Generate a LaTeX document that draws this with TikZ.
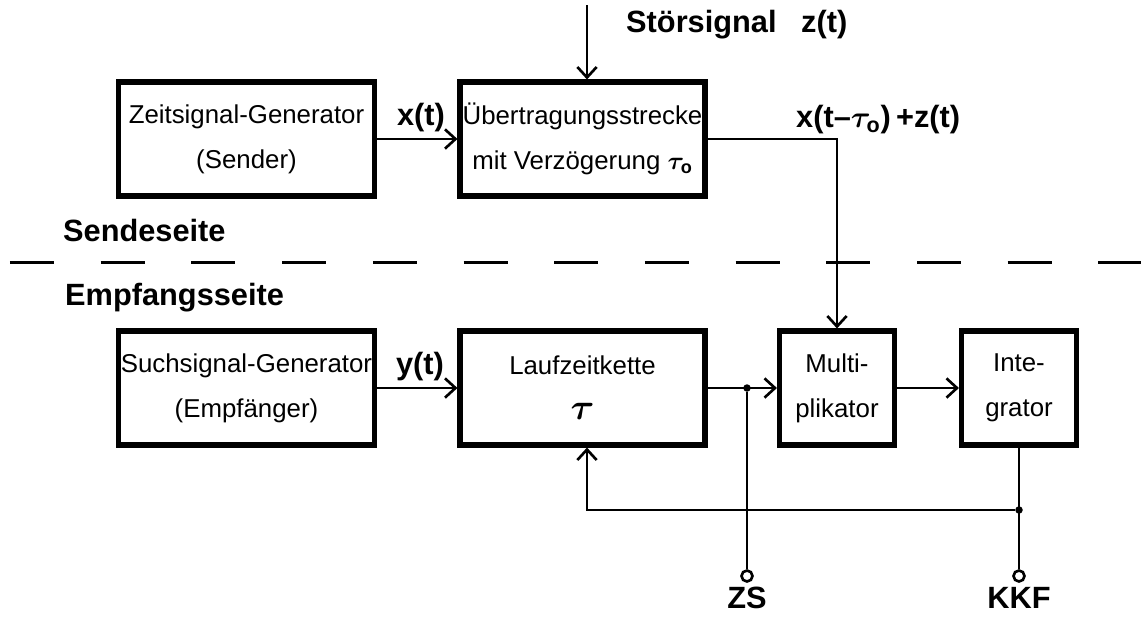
\documentclass[tikz,border=0pt]{standalone}
\usepackage{fontspec}
\setmainfont{Liberation Sans}
\usetikzlibrary{arrows.meta,positioning}

\begin{document}
\begin{tikzpicture}[
    block/.style={draw, line width=2.9pt, align=center, inner sep=0pt,
        minimum height=2.28cm, font=\fontsize{14.7}{25.5}\selectfont},
    sig/.style={line width=1.5pt, -{Straight Barb[length=6pt,width=11pt,line width=1.5pt]}},
    wire/.style={line width=1.5pt},
    lab/.style={font=\bfseries\boldmath\fontsize{17.5}{21}\selectfont},
    junction/.style={circle, fill, inner sep=0pt, minimum size=0.15cm},
    terminal/.style={circle, draw, line width=1.5pt, fill=white, inner sep=0pt, minimum size=0.22cm}
]
\useasboundingbox (0,0) rectangle (22.82,-12.34);

% Bloecke
\node[block, minimum width=5.12cm] (zeit) at (4.93,-2.78) {Zeitsignal-Generator\\(Sender)};
\node[block, minimum width=4.9cm] (ueber) at (11.65,-2.78) {Übertragungsstrecke\\mit Verzögerung {\boldmath$\tau_{\mathrm{o}}$}};
\node[block, minimum width=5.12cm] (such) at (4.93,-7.76) {Suchsignal-Generator\\(Empfänger)};
\node[block, minimum width=4.9cm] (lauf) at (11.65,-7.76) {Laufzeitkette\\{\fontsize{20}{25.5}\selectfont\boldmath$\tau$}};
\node[block, minimum width=2.3cm] (multi) at (16.74,-7.76) {Multi-\\plikator};
\node[block, minimum width=2.3cm] (integ) at (20.38,-7.76) {Inte-\\grator};

% Trennlinie
\draw[line width=1.7pt, dash pattern=on 0.88cm off 0.934cm] (0.2,-5.24) -- (22.82,-5.24);
\node[lab, anchor=west] (sende) at (1.14,-4.6) {Sendeseite};
\node[lab, anchor=west] (empf) at (1.18,-5.96) {Empfangsseite};

% Signale
\coordinate (stoer) at (11.74,-0.1);
\draw[sig] (stoer) -- (stoer |- ueber.north);
\node[lab, anchor=west] (stoerlab) at (12.4,-0.5) {Störsignal\hspace{14pt}z(t)};
\draw[sig] (zeit) -- (ueber);
\node[lab] (xt) at (8.42,-2.36) {x(t)};
\draw[sig] (ueber.east) -| (multi.north);
\node[lab, anchor=west] (sum) at (15.8,-2.4) {x(t–$\tau_{\mathrm{o}}$)\,+z(t)};
\draw[sig] (such) -- (lauf);
\node[lab] (yt) at (8.4,-7.34) {y(t)};
\draw[sig] (lauf) -- (multi);
\draw[sig] (multi) -- (integ);

% Ausgaenge und Rueckfuehrung
\node[junction] (jzs) at (14.94,-7.76) {};
\node[terminal] (zs) at (14.94,-11.52) {};
\node[terminal] (kkf) at (integ.south |- zs) {};
\node[junction] (jkkf) at (integ.south |- 0,-10.2) {};
\draw[wire] (jzs) -- (zs);
\draw[wire] (integ.south) -- (kkf);
\draw[sig] (jkkf) -| ([xshift=0.09cm]lauf.south);
\node[lab, inner sep=0pt, below=0.08cm of zs] (zslab) {ZS};
\node[lab, inner sep=0pt, below=0.08cm of kkf] (kkflab) {KKF};
\end{tikzpicture}
\end{document}
